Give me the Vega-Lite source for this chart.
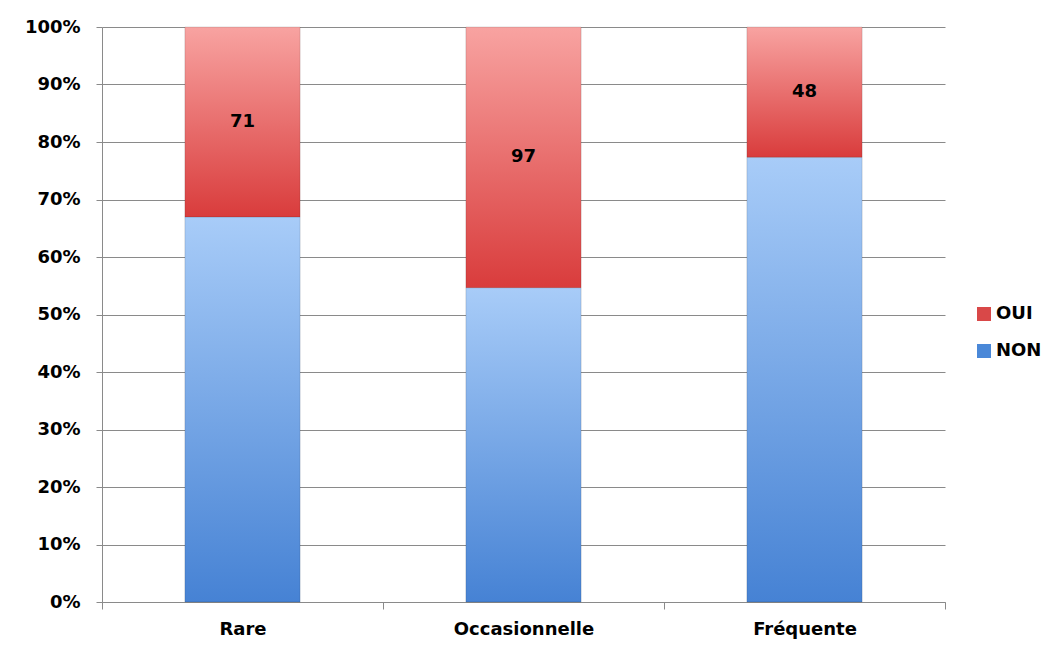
{
  "$schema": "https://vega.github.io/schema/vega-lite/v6.json",
  "width": 843,
  "height": 575,
  "autosize": "none",
  "padding": {"left": 102, "top": 27, "right": 108, "bottom": 46},
  "background": "white",
  "config": {"view": {"stroke": null}, "font": "DejaVu Sans"},
  "data": {
    "values": [
      {"cat": "Rare", "rep": "NON", "n": 144},
      {"cat": "Rare", "rep": "OUI", "n": 71},
      {"cat": "Occasionnelle", "rep": "NON", "n": 117},
      {"cat": "Occasionnelle", "rep": "OUI", "n": 97},
      {"cat": "Fréquente", "rep": "NON", "n": 164},
      {"cat": "Fréquente", "rep": "OUI", "n": 48}
    ]
  },
  "transform": [
    {"stack": "n", "groupby": ["cat"], "sort": [{"field": "rep", "order": "ascending"}], "offset": "normalize", "as": ["y0", "y1"]}
  ],
  "encoding": {
    "x": {
      "field": "cat", "type": "nominal", "sort": ["Rare", "Occasionnelle", "Fréquente"],
      "scale": {"paddingInner": 0, "paddingOuter": 0},
      "axis": {
        "title": null, "labelAngle": 0, "labelFont": "DejaVu Sans", "labelFontWeight": "bold",
        "labelFontSize": 18, "labelColor": "black", "domainColor": "#8a8a8a", "tickColor": "#8a8a8a",
        "tickSize": 7, "tickBand": "extent", "labelPadding": 11, "grid": false
      }
    }
  },
  "layer": [
    {
      "mark": {"type": "bar", "opacity": 0, "width": {"band": 0.41}},
      "encoding": {
        "y": {"field": "y0", "type": "quantitative", "scale": {"domain": [0, 1]}},
        "y2": {"field": "y1"},
        "color": {
          "field": "rep", "type": "nominal",
          "scale": {"domain": ["OUI", "NON"], "range": ["#d94848", "#4a88d8"]},
          "legend": {
            "title": null, "orient": "none", "legendX": 873, "legendY": 278, "padding": 0,
            "symbolType": "square", "symbolSize": 196, "symbolStrokeWidth": 0, "symbolOpacity": 1,
            "labelFont": "DejaVu Sans", "labelFontWeight": "bold", "labelFontSize": 18, "labelColor": "black",
            "labelOffset": 3, "rowPadding": 19
          }
        }
      }
    },
    {
      "mark": {"type": "bar", "stroke": "#00000022", "strokeWidth": 1, "width": {"band": 0.41}},
      "encoding": {
        "y": {
          "field": "y0", "type": "quantitative", "scale": {"domain": [0, 1]},
          "axis": {
            "title": null, "format": ".0%", "values": [0, 0.1, 0.2, 0.3, 0.4, 0.5, 0.6, 0.7, 0.8, 0.9, 1],
            "labelFont": "DejaVu Sans", "labelFontWeight": "bold", "labelFontSize": 18, "labelColor": "black",
            "gridColor": "#8a8a8a", "domainColor": "#8a8a8a", "tickColor": "#8a8a8a", "tickSize": 6, "labelPadding": 16
          }
        },
        "y2": {"field": "y1"},
        "fill": {
          "condition": {
            "test": "datum.rep === 'OUI'",
            "value": {"gradient": "linear", "x1": 0, "y1": 0, "x2": 0, "y2": 1,
              "stops": [{"offset": 0, "color": "#f8a3a1"}, {"offset": 1, "color": "#d93c3c"}]}
          },
          "value": {"gradient": "linear", "x1": 0, "y1": 0, "x2": 0, "y2": 1,
            "stops": [{"offset": 0, "color": "#a8ccf8"}, {"offset": 1, "color": "#4682d4"}]}
        }
      }
    },
    {
      "transform": [
        {"filter": "datum.rep === 'OUI'"},
        {"calculate": "(datum.y0 + datum.y1) / 2", "as": "mid"}
      ],
      "mark": {"type": "text", "font": "DejaVu Sans", "fontWeight": "bold", "fontSize": 18, "color": "black"},
      "encoding": {
        "y": {"field": "mid", "type": "quantitative"},
        "text": {"field": "n", "type": "quantitative"}
      }
    }
  ]
}
